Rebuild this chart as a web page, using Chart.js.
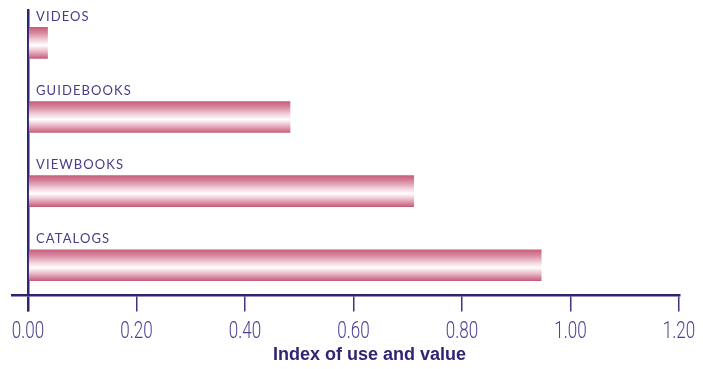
<!DOCTYPE html>
<html>
<head>
<meta charset="utf-8">
<script src="https://cdn.jsdelivr.net/npm/chart.js@4.4.1/dist/chart.umd.min.js"></script>
<style>
  html, body { margin: 0; padding: 0; background: #ffffff; }
  #wrap { width: 703px; height: 369px; }
</style>
</head>
<body>
<div id="wrap"><canvas id="c" width="703" height="369"></canvas></div>
<script>
// Publication types, listed top to bottom
const categories = ['VIDEOS', 'GUIDEBOOKS', 'VIEWBOOKS', 'CATALOGS'];
// Index of use and value for each publication type
const indexValues = [0.036, 0.483, 0.711, 0.946];
// Values marked along the horizontal axis
const xTickValues = [0, 0.2, 0.4, 0.6, 0.8, 1.0, 1.2];
const axisTitle = 'Index of use and value';

const INK = '#2f2673';
const TICK_INK = '#3e3585';
const LABEL_INK = '#463d8a';
const NUM_INK = '#4a4290';
const BAR_H = 31;
const TICK_LEN = 16;
const TICK_PAD = 4;
const TITLE_SIZE = 18;
const TITLE_SHIFT = 24;   // title sits a little right of the plot's centre

// Tubular pink-to-white shading across each bar's height
function barGradient(context) {
  const chart = context.chart;
  const yScale = chart.scales.y;
  if (!yScale || !context.parsed) return '#d98aa1';
  const c = yScale.getPixelForValue(context.parsed.y);
  if (!Number.isFinite(c)) return '#d98aa1';
  const g = chart.ctx.createLinearGradient(0, c - BAR_H / 2, 0, c + BAR_H / 2);
  g.addColorStop(0.00, '#c75d7c');
  g.addColorStop(0.20, '#d98da3');
  g.addColorStop(0.42, '#f2d3dc');
  g.addColorStop(0.58, '#ffffff');
  g.addColorStop(0.78, '#e9b5c4');
  g.addColorStop(1.00, '#c65e7d');
  return g;
}

// Category names written just above their bars
const categoryLabels = {
  id: 'categoryLabels',
  afterDatasetsDraw(chart) {
    const { ctx, scales: { x, y } } = chart;
    ctx.save();
    ctx.font = '13px Lato, "Open Sans", sans-serif';
    ctx.letterSpacing = '1.1px';
    ctx.fillStyle = LABEL_INK;
    ctx.textAlign = 'left';
    ctx.textBaseline = 'alphabetic';
    categories.forEach((name, i) => {
      const top = y.getPixelForValue(i) - BAR_H / 2;
      ctx.fillText(name, x.getPixelForValue(0) + 8, top - 6.5);
    });
    ctx.restore();
  }
};

// Narrow, light numerals under each tick, and the axis title below them
const axisText = {
  id: 'axisText',
  afterDraw(chart) {
    const { ctx, scales: { x } } = chart;
    const baseline = x.top + TICK_LEN + TICK_PAD + 22;
    ctx.save();
    ctx.font = '300 23px Roboto, "Liberation Sans", sans-serif';
    ctx.fillStyle = NUM_INK;
    ctx.textAlign = 'center';
    ctx.textBaseline = 'alphabetic';
    x.ticks.forEach((t) => {
      const px = x.getPixelForValue(t.value);
      ctx.save();
      ctx.translate(px, baseline);
      ctx.scale(0.74, 1);
      ctx.fillText(Number(t.value).toFixed(2), 0, 0);
      ctx.restore();
    });

    ctx.font = 'bold ' + TITLE_SIZE + 'px "Liberation Sans", Arial, sans-serif';
    ctx.fillStyle = INK;
    ctx.textBaseline = 'middle';
    ctx.fillText(axisTitle, (x.left + x.right) / 2 + TITLE_SHIFT, x.bottom - TITLE_SIZE * 0.6);
    ctx.restore();
  }
};

const isZero = (c) => c.tick && Math.abs(c.tick.value) < 1e-9;

new Chart(document.getElementById('c'), {
  type: 'bar',
  data: {
    datasets: [{
      data: categories.map((name, i) => ({ x: indexValues[i], y: i })),
      backgroundColor: barGradient,
      borderWidth: 0,
      barThickness: BAR_H
    }]
  },
  options: {
    indexAxis: 'y',
    responsive: false,
    animation: false,
    events: [],
    layout: { padding: { left: 12, right: 24, top: 9, bottom: 3 } },
    plugins: { legend: { display: false }, tooltip: { enabled: false } },
    scales: {
      x: {
        type: 'linear',
        min: -0.0295,
        max: 1.2,
        z: 1,
        afterBuildTicks: (s) => { s.ticks = xTickValues.map(v => ({ value: v })); },
        grid: {
          drawOnChartArea: true,
          color: (c) => isZero(c) ? INK : 'rgba(0,0,0,0)',
          lineWidth: (c) => isZero(c) ? 2.5 : 1.5,
          tickColor: (c) => isZero(c) ? INK : TICK_INK,
          tickWidth: (c) => isZero(c) ? 2.5 : 1.5,
          tickLength: TICK_LEN
        },
        border: { display: true, color: INK, width: 2.5 },
        ticks: {
          callback: (v) => Number(v).toFixed(2),
          font: { family: '"Liberation Sans", sans-serif', size: 19 },
          color: 'rgba(0,0,0,0)',
          padding: TICK_PAD,
          maxRotation: 0,
          autoSkip: false
        },
        title: {
          display: true,
          text: axisTitle,
          font: { family: '"Liberation Sans", Arial, sans-serif', size: TITLE_SIZE, weight: 'bold' },
          color: 'rgba(0,0,0,0)',
          padding: { top: 2, bottom: 0 }
        }
      },
      y: {
        type: 'linear',
        reverse: true,
        offset: false,
        min: -0.457,
        max: 3.41,
        display: false
      }
    }
  },
  plugins: [categoryLabels, axisText]
});
</script>
</body>
</html>
